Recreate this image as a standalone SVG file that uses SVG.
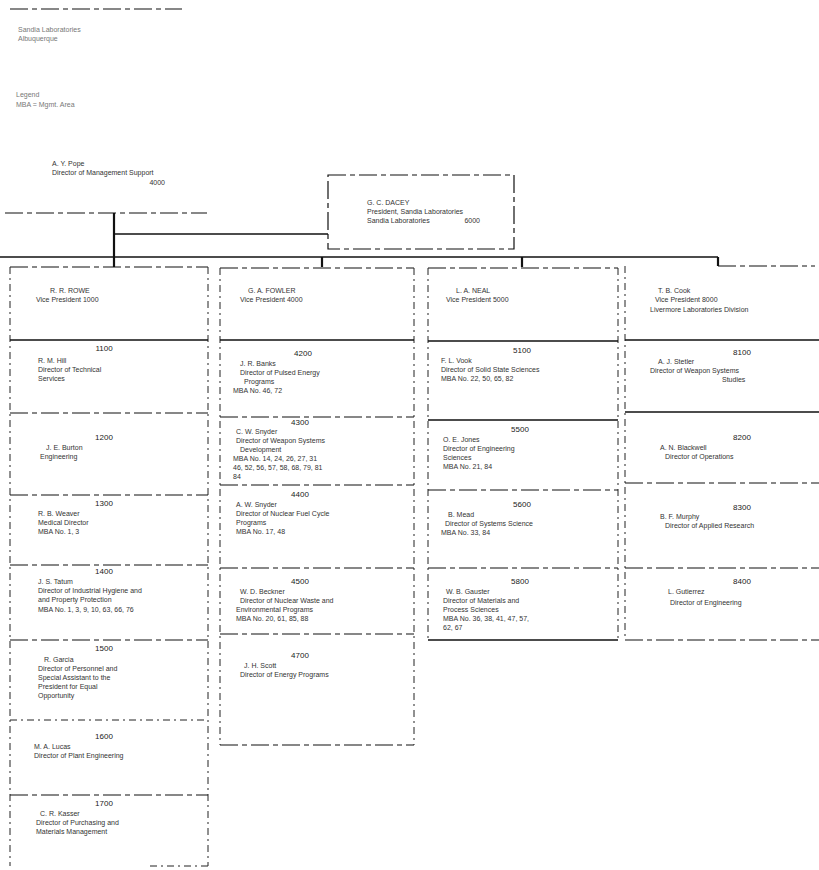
<svg xmlns="http://www.w3.org/2000/svg" width="819" height="870" viewBox="0 0 819 870">
<style>
  .bg{fill:#fff}
  .s{stroke:#111;stroke-width:1.3;fill:none}
  .k{stroke:#111;stroke-width:2.2;fill:none}
  .d{stroke:#111;stroke-width:1.2;fill:none;stroke-dasharray:18 4 5 4}
  .v{stroke:#222;stroke-width:1;fill:none;stroke-dasharray:7 4 2 4}
  text{font-family:"Liberation Sans",Arial,sans-serif;font-size:7px;fill:#333}
  .n{font-size:8px;fill:#222;text-anchor:middle}
  .f{fill:#777}
</style>
<rect class="bg" width="819" height="870"/>

<g id="header">
  <line class="d" x1="10" y1="9" x2="182" y2="9"/>
  <text class="f" x="18" y="32">Sandia Laboratories</text>
  <text class="f" x="18" y="41">Albuquerque</text>
  <text class="f" x="16" y="97">Legend</text>
  <text class="f" x="16" y="107">MBA = Mgmt. Area</text>
</g>

<g id="staff">
  <text x="52" y="166">A. Y. Pope</text>
  <text x="52" y="175">Director of Management Support</text>
  <text x="165" y="185" text-anchor="end">4000</text>
</g>

<g id="president">
  <rect class="d" x="328" y="175" width="186" height="74"/>
  <text x="367" y="205">G. C. DACEY</text>
  <text x="367" y="214">President, Sandia Laboratories</text>
  <text x="367" y="223">Sandia Laboratories</text>
  <text x="480" y="223" text-anchor="end">6000</text>
</g>

<g id="connectors">
  <line class="d" x1="5" y1="213" x2="207" y2="213"/>
  <line class="k" x1="114" y1="213" x2="114" y2="267"/>
  <line class="s" x1="114" y1="234" x2="328" y2="234"/>
  <line class="s" x1="0" y1="257" x2="718" y2="257"/>
  <line class="k" x1="322" y1="257" x2="322" y2="267"/>
  <line class="k" x1="522" y1="257" x2="522" y2="267"/>
  <line class="k" x1="718" y1="257" x2="718" y2="266"/>
</g>

<g id="col1">
  <line class="d" x1="10" y1="267" x2="208" y2="267"/>
  <line class="v" x1="10" y1="267" x2="10" y2="866"/>
  <line class="v" x1="208" y1="267" x2="208" y2="866"/>
  <line class="s" x1="10" y1="340" x2="208" y2="340"/>
  <line class="d" x1="10" y1="413" x2="208" y2="413"/>
  <line class="d" x1="10" y1="495" x2="208" y2="495"/>
  <line class="d" x1="10" y1="565" x2="208" y2="565"/>
  <line class="d" x1="10" y1="640" x2="208" y2="640"/>
  <line class="v" x1="10" y1="720" x2="208" y2="720"/>
  <line class="d" x1="10" y1="795" x2="208" y2="795"/>
  <line class="v" x1="150" y1="866" x2="208" y2="866"/>
  <text x="50" y="293">R. R. ROWE</text>
  <text x="36" y="302">Vice President  1000</text>
  <text class="n" x="104" y="351">1100</text>
  <text x="38" y="363">R. M. Hill</text>
  <text x="38" y="372">Director of Technical</text>
  <text x="38" y="381">Services</text>
  <text class="n" x="104" y="440">1200</text>
  <text x="46" y="450">J. E. Burton</text>
  <text x="40" y="459">Engineering</text>
  <text class="n" x="104" y="506">1300</text>
  <text x="38" y="516">R. B. Weaver</text>
  <text x="38" y="525">Medical Director</text>
  <text x="38" y="534">MBA No. 1, 3</text>
  <text class="n" x="104" y="574">1400</text>
  <text x="38" y="584">J. S. Tatum</text>
  <text x="38" y="593">Director of Industrial Hygiene and</text>
  <text x="38" y="602">and Property Protection</text>
  <text x="38" y="612">MBA No. 1, 3, 9, 10, 63, 66, 76</text>
  <text class="n" x="104" y="651">1500</text>
  <text x="44" y="662">R. Garcia</text>
  <text x="38" y="671">Director of Personnel and</text>
  <text x="38" y="680">Special Assistant to the</text>
  <text x="38" y="689">President for Equal</text>
  <text x="38" y="698">Opportunity</text>
  <text class="n" x="104" y="739">1600</text>
  <text x="34" y="749">M. A. Lucas</text>
  <text x="34" y="758">Director of Plant Engineering</text>
  <text class="n" x="104" y="806">1700</text>
  <text x="40" y="816">C. R. Kasser</text>
  <text x="36" y="825">Director of Purchasing and</text>
  <text x="36" y="834">Materials Management</text>
</g>

<g id="col2">
  <line class="d" x1="220" y1="268" x2="414" y2="268"/>
  <line class="v" x1="220" y1="268" x2="220" y2="745"/>
  <line class="v" x1="414" y1="268" x2="414" y2="745"/>
  <line class="s" x1="220" y1="340" x2="414" y2="340"/>
  <line class="d" x1="220" y1="417" x2="414" y2="417"/>
  <line class="d" x1="220" y1="485" x2="414" y2="485"/>
  <line class="d" x1="220" y1="568" x2="414" y2="568"/>
  <line class="d" x1="220" y1="634" x2="414" y2="634"/>
  <line class="d" x1="220" y1="745" x2="414" y2="745"/>
  <text x="248" y="293">G. A. FOWLER</text>
  <text x="240" y="302">Vice President  4000</text>
  <text class="n" x="303" y="356">4200</text>
  <text x="240" y="366">J. R. Banks</text>
  <text x="240" y="375">Director of Pulsed Energy</text>
  <text x="244" y="384">Programs</text>
  <text x="233" y="393">MBA No. 46, 72</text>
  <text class="n" x="300" y="425">4300</text>
  <text x="236" y="434">C. W. Snyder</text>
  <text x="236" y="443">Director of Weapon Systems</text>
  <text x="240" y="452">Development</text>
  <text x="233" y="461">MBA No. 14, 24, 26, 27, 31</text>
  <text x="233" y="470">46, 52, 56, 57, 58, 68, 79, 81</text>
  <text x="233" y="479">84</text>
  <text class="n" x="300" y="497">4400</text>
  <text x="236" y="507">A. W. Snyder</text>
  <text x="236" y="516">Director of Nuclear Fuel Cycle</text>
  <text x="236" y="525">Programs</text>
  <text x="236" y="534">MBA No. 17, 48</text>
  <text class="n" x="300" y="584">4500</text>
  <text x="240" y="594">W. D. Beckner</text>
  <text x="240" y="603">Director of Nuclear Waste and</text>
  <text x="236" y="612">Environmental Programs</text>
  <text x="236" y="621">MBA No. 20, 61, 85, 88</text>
  <text class="n" x="300" y="658">4700</text>
  <text x="244" y="668">J. H. Scott</text>
  <text x="240" y="677">Director of Energy Programs</text>
</g>

<g id="col3">
  <line class="d" x1="428" y1="268" x2="618" y2="268"/>
  <line class="v" x1="428" y1="268" x2="428" y2="640"/>
  <line class="v" x1="618" y1="268" x2="618" y2="640"/>
  <line class="s" x1="428" y1="341" x2="618" y2="341"/>
  <line class="s" x1="428" y1="420" x2="618" y2="420"/>
  <line class="d" x1="428" y1="490" x2="618" y2="490"/>
  <line class="d" x1="428" y1="568" x2="618" y2="568"/>
  <line class="s" x1="428" y1="640" x2="618" y2="640"/>
  <text x="456" y="293">L. A. NEAL</text>
  <text x="446" y="302">Vice President  5000</text>
  <text class="n" x="522" y="353">5100</text>
  <text x="441" y="363">F. L. Vook</text>
  <text x="441" y="372">Director of Solid State Sciences</text>
  <text x="441" y="381">MBA No. 22, 50, 65, 82</text>
  <text class="n" x="520" y="432">5500</text>
  <text x="443" y="442">O. E. Jones</text>
  <text x="443" y="451">Director of Engineering</text>
  <text x="443" y="460">Sciences</text>
  <text x="443" y="469">MBA No. 21, 84</text>
  <text class="n" x="522" y="507">5600</text>
  <text x="448" y="517">B. Mead</text>
  <text x="445" y="526">Director of Systems Science</text>
  <text x="441" y="535">MBA No. 33, 84</text>
  <text class="n" x="520" y="584">5800</text>
  <text x="446" y="594">W. B. Gauster</text>
  <text x="443" y="603">Director of Materials and</text>
  <text x="443" y="612">Process Sciences</text>
  <text x="443" y="621">MBA No. 36, 38, 41, 47, 57,</text>
  <text x="443" y="630">62, 67</text>
</g>

<g id="col4">
  <line class="d" x1="718" y1="266" x2="815" y2="266"/>
  <line class="v" x1="625" y1="266" x2="625" y2="640"/>
  <line class="s" x1="625" y1="340" x2="819" y2="340"/>
  <line class="s" x1="625" y1="412" x2="819" y2="412"/>
  <line class="d" x1="625" y1="483" x2="819" y2="483"/>
  <line class="d" x1="625" y1="568" x2="819" y2="568"/>
  <line class="d" x1="625" y1="640" x2="819" y2="640"/>
  <text x="658" y="293">T. B. Cook</text>
  <text x="655" y="302">Vice President  8000</text>
  <text x="650" y="312">Livermore Laboratories Division</text>
  <text class="n" x="742" y="355">8100</text>
  <text x="658" y="364">A. J. Stetler</text>
  <text x="650" y="373">Director of Weapon Systems</text>
  <text x="722" y="382">Studies</text>
  <text class="n" x="742" y="440">8200</text>
  <text x="660" y="450">A. N. Blackwell</text>
  <text x="665" y="459">Director of Operations</text>
  <text class="n" x="742" y="510">8300</text>
  <text x="660" y="519">B. F. Murphy</text>
  <text x="665" y="528">Director of Applied Research</text>
  <text class="n" x="742" y="584">8400</text>
  <text x="668" y="594">L. Gutierrez</text>
  <text x="670" y="605">Director of Engineering</text>
</g>
</svg>
